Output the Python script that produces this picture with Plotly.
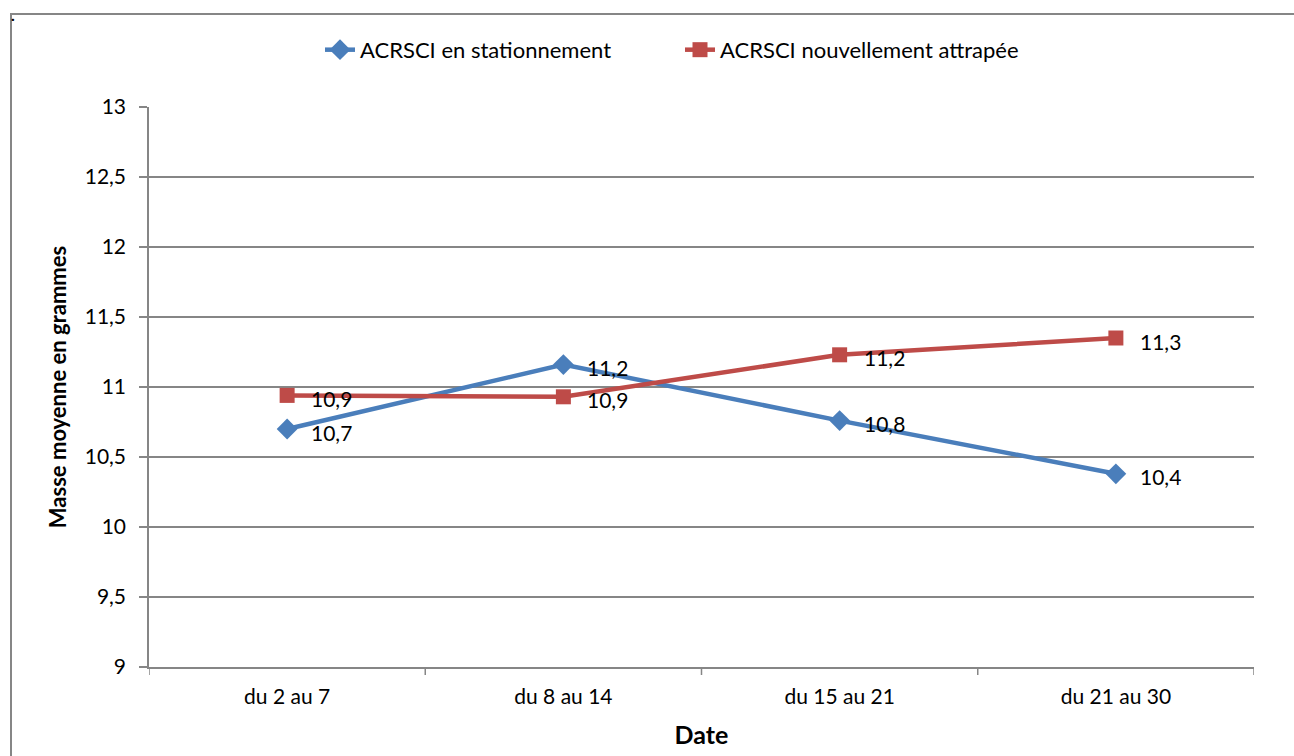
import plotly.graph_objects as go

categories = ["du 2 au 7", "du 8 au 14", "du 15 au 21", "du 21 au 30"]
stationnement = [10.7, 11.16, 10.76, 10.38]
attrapee = [10.94, 10.93, 11.23, 11.35]
y_ticks = [9, 9.5, 10, 10.5, 11, 11.5, 12, 12.5, 13]
y_tick_labels = ["9", "9,5", "10", "10,5", "11", "11,5", "12", "12,5", "13"]

BLUE = "#4a7ebb"
RED = "#be4b48"
GRID = "#868686"
FONT = "Lato"

def fmt(v):
    return f"{v:.1f}".replace(".", ",")

xs = list(range(len(categories)))

fig = go.Figure()
fig.add_trace(go.Scatter(
    x=xs, y=stationnement, mode="lines+markers", name="ACRSCI en stationnement",
    line=dict(color=BLUE, width=4.5),
    marker=dict(symbol="diamond", size=16, color=BLUE),
))
fig.add_trace(go.Scatter(
    x=xs, y=attrapee, mode="lines+markers", name="ACRSCI nouvellement attrapée",
    line=dict(color=RED, width=4.5),
    marker=dict(symbol="square", size=15, color=RED),
))

annotations = []
for series in (stationnement, attrapee):
    for x, v in zip(xs, series):
        annotations.append(dict(
            x=x, y=v, xref="x", yref="y", text=fmt(v), showarrow=False,
            xanchor="left", yanchor="middle", xshift=22, yshift=-3,
            font=dict(family=FONT, size=21, color="black"),
        ))
annotations.append(dict(
    x=0, y=1, xref="paper", yref="paper", text="<b>.</b>", showarrow=False,
    xanchor="left", yanchor="top", xshift=-140, yshift=104,
    font=dict(family=FONT, size=16, color="black"),
))
fig.update_layout(annotations=annotations)

fig.update_layout(
    width=1294, height=756,
    margin=dict(l=149, r=40, t=107, b=89),
    paper_bgcolor="white", plot_bgcolor="white",
    font=dict(family=FONT, size=21, color="black"),
    showlegend=True,
    legend=dict(orientation="h", x=(320 - 149) / 1105, xanchor="left", y=1.102, yanchor="middle",
                font=dict(family=FONT, size=22), traceorder="normal",
                entrywidth=315, entrywidthmode="pixels",
                bgcolor="rgba(0,0,0,0)"),
    xaxis=dict(
        range=[-0.5, 3.5], tickmode="array", tickvals=xs, ticktext=categories,
        showgrid=False, showline=True, linecolor=GRID, linewidth=1.5,
        ticks="", zeroline=False, fixedrange=True, ticklabelstandoff=10,
        title=dict(text="<b>Date</b>", font=dict(family=FONT, size=25), standoff=20),
        tickfont=dict(family=FONT, size=21),
    ),
    yaxis=dict(
        range=[9, 13], tickmode="array", tickvals=y_ticks, ticktext=y_tick_labels,
        showgrid=True, gridcolor=GRID, gridwidth=1.5,
        showline=True, linecolor=GRID, linewidth=1.5,
        ticks="outside", ticklen=8, tickcolor=GRID, tickwidth=1.5,
        zeroline=False, fixedrange=True, ticklabelstandoff=9,
        title=dict(text="<b>Masse moyenne en grammes</b>", font=dict(family=FONT, size=22), standoff=12),
        tickfont=dict(family=FONT, size=21),
    ),
)

# category boundary ticks on the x axis
shapes = []
for b in [-0.5, 0.5, 1.5, 2.5, 3.5]:
    shapes.append(dict(type="line", xref="x", yref="paper", x0=b, x1=b, y0=0, y1=-0.0143,
                       line=dict(color=GRID, width=1.5)))
# outer frame
shapes.append(dict(type="rect", xref="paper", yref="paper",
                   x0=(11 - 149) / 1105, x1=(1310 - 149) / 1105,
                   y0=(667 - 770) / 560, y1=(667 - 14) / 560,
                   line=dict(color=GRID, width=2), fillcolor="rgba(0,0,0,0)", layer="below"))
fig.update_layout(shapes=shapes)

fig.write_html("out.html", config={"displayModeBar": False},
               post_script="document.body.style.margin='0';")
